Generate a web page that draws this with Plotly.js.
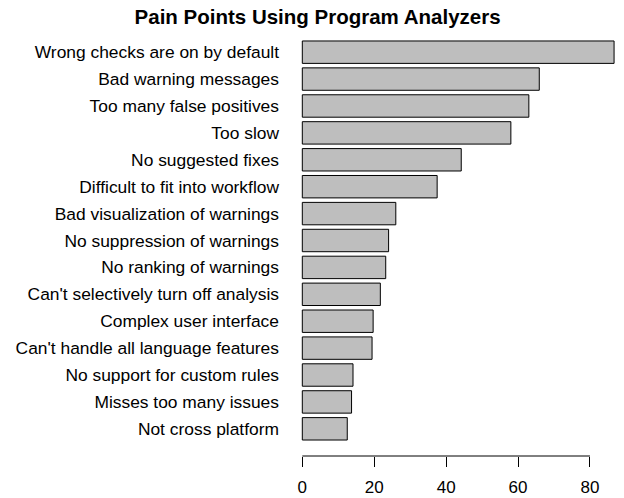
<!DOCTYPE html>
<html>
<head>
<meta charset="utf-8">
<script src="https://cdn.plot.ly/plotly-3.0.1.min.js"></script>
<style>html,body{margin:0;padding:0;background:#fff;}#chart{width:624px;height:498px;}</style>
</head>
<body>
<div id="chart"></div>
<script>
const categories = [
  "Wrong checks are on by default",
  "Bad warning messages",
  "Too many false positives",
  "Too slow",
  "No suggested fixes",
  "Difficult to fit into workflow",
  "Bad visualization of warnings",
  "No suppression of warnings",
  "No ranking of warnings",
  "Can't selectively turn off analysis",
  "Complex user interface",
  "Can't handle all language features",
  "No support for custom rules",
  "Misses too many issues",
  "Not cross platform"
];
const values = [86.7, 65.9, 63.0, 58.0, 44.2, 37.5, 26.0, 24.0, 23.2, 21.7, 19.7, 19.4, 14.1, 13.7, 12.5];
const xTicks = [0, 20, 40, 60, 80];
const titleText = "Pain Points Using Program Analyzers";

const font = "Liberation Sans, Arial, Helvetica, sans-serif";
const n = categories.length;

const trace = {
  type: "bar",
  orientation: "h",
  x: values,
  y: categories,
  marker: {color: "#bebebe", line: {color: "#000000", width: 1}},
  hoverinfo: "none"
};

const layout = {
  width: 624,
  height: 498,
  margin: {l: 290, r: 0, t: 24.8, b: 41.6, pad: 0},
  paper_bgcolor: "#ffffff",
  plot_bgcolor: "#ffffff",
  bargap: 0.167,
  showlegend: false,
  font: {family: font, size: 17.4, color: "#000000"},
  title: {
    text: "<b>" + titleText + "</b>",
    font: {family: font, size: 20.5, color: "#000000"},
    x: 0.509, xanchor: "center", xref: "container",
    y: 0.966, yanchor: "middle", yref: "container"
  },
  xaxis: {
    range: [-3.42, 89.46],
    tickmode: "array",
    tickvals: xTicks,
    ticktext: xTicks.map(String),
    ticks: "outside",
    ticklen: 10,
    tickwidth: 1,
    tickcolor: "#000000",
    showline: false,
    showgrid: false,
    zeroline: false,
    ticklabelstandoff: 6,
    tickfont: {family: font, size: 17, color: "#000000"},
    fixedrange: true
  },
  yaxis: {
    type: "category",
    categoryorder: "array",
    categoryarray: categories,
    range: [n - 1 + 1.01, -1.01],
    showline: false,
    showgrid: false,
    zeroline: false,
    ticks: "",
    ticklabelstandoff: 10,
    tickfont: {family: font, size: 17.4, color: "#000000"},
    fixedrange: true
  },
  shapes: [{
    type: "line",
    xref: "x", yref: "paper",
    x0: xTicks[0], x1: xTicks[xTicks.length - 1],
    y0: 0, y1: 0,
    line: {color: "#000000", width: 1}
  }]
};

Plotly.newPlot("chart", [trace], layout, {displayModeBar: false, staticPlot: true});
</script>
</body>
</html>
